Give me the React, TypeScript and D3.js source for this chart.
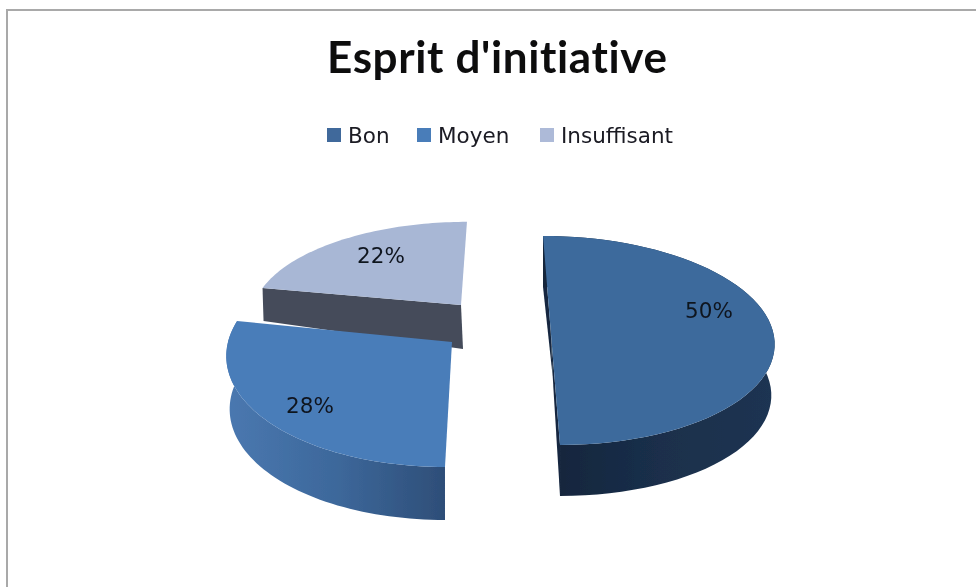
import React from "react";
import * as d3 from "d3";

const categories = ["Bon", "Moyen", "Insuffisant"];
const shares = [50, 28, 22];
const labels = ["50%", "28%", "22%"];
const title = "Esprit d'initiative";

const topColors = ["#3c6a9c", "#4a7db9", "#a8b7d5"];
const legendColors = ["#41699b", "#4a7db9", "#adbad8"];
const legendSquareX = [327, 417, 540];
const legendTextX = [348, 438, 561];
const labelPos = [[709, 311], [310, 406], [381, 256]];

// Per-slice projection of the exploded, perspective-tilted pie
const geo = [
  { cx: 550.7, cy: 330.4, rx: 222, ry: 104.5, kx: 8.5, rim: 51, apex: 46, shrink: 0.985, wall: true, faces: [true, true], grad: ["#14253b", "#1a2f4b", "#1c3452"], face: "#16283f" },
  { cx: 452, cy: 342, rx: 224, ry: 114, kx: -6.4, rim: 53, apex: 50, shrink: 0.985, wall: true, faces: [false, false], grad: ["#4a78b0", "#3d689b", "#2e4e78"], face: "#2e4e78" },
  { cx: 461, cy: 305, rx: 207, ry: 92, kx: -6.6, rim: 33, apex: 44, shrink: 0.995, wall: false, faces: [true, false], grad: ["#444b5a", "#444b5a", "#444b5a"], face: "#444b5a" },
];
const PERSPECTIVE = 0.096;

type G = (typeof geo)[number];

function project(g: G, theta: number, lower: boolean): [number, number] {
  const near = -Math.cos(theta);
  const s = 1 + PERSPECTIVE * near;
  const shrink = lower ? g.shrink : 1;
  const x = g.cx + (g.rx * shrink * Math.sin(theta) + g.kx * near) * s;
  const y = g.cy + g.ry * near * s + (lower ? g.rim : 0);
  return [x, y];
}

export default function App() {
  const arcs = d3.pie<number>().sort(null).startAngle(0)(shares);
  const line = d3.line();
  const paths = arcs.map((a, i) => {
    const g = geo[i];
    const thetas = d3.range(0, 61).map((k) => a.startAngle + ((a.endAngle - a.startAngle) * k) / 60);
    const upper = thetas.map((t) => project(g, t, false));
    const lower = thetas.map((t) => project(g, t, true));
    const apex: [number, number] = [g.cx, g.cy];
    const apexLow: [number, number] = [g.cx + 2, g.cy + g.apex];
    const xs = upper.concat(lower).map((p) => p[0]);
    return {
      top: line([apex, ...upper])! + "Z",
      wall: line([...upper, ...lower.slice().reverse()])! + "Z",
      faceA: line([apex, upper[0], lower[0], apexLow])! + "Z",
      faceB: line([apex, upper[60], lower[60], apexLow])! + "Z",
      x0: d3.min(xs)!,
      x1: d3.max(xs)!,
    };
  });

  return (
    <svg
      width={976}
      height={587}
      style={{ position: "fixed", left: 0, top: 0, background: "#fff" }}
      fontFamily="'DejaVu Sans', sans-serif"
    >
      <defs>
        <filter id="soft" x="-5%" y="-5%" width="110%" height="110%">
          <feGaussianBlur stdDeviation="0.5" />
        </filter>
        {paths.map((p, i) => (
          <linearGradient key={i} id={`wall${i}`} gradientUnits="userSpaceOnUse" x1={p.x0} x2={p.x1} y1={0} y2={0}>
            <stop offset="0" stopColor={geo[i].grad[0]} />
            <stop offset="0.5" stopColor={geo[i].grad[1]} />
            <stop offset="1" stopColor={geo[i].grad[2]} />
          </linearGradient>
        ))}
      </defs>
      <path d="M7 587V10H976" fill="none" stroke="#a9a9a9" strokeWidth={2} />
      <g filter="url(#soft)">
        {[2, 1, 0].map((i) => (
          <g key={categories[i]}>
            {geo[i].faces[0] && <path d={paths[i].faceA} fill={geo[i].face} />}
            {geo[i].faces[1] && <path d={paths[i].faceB} fill={geo[i].face} />}
            {geo[i].wall && <path d={paths[i].wall} fill={`url(#wall${i})`} />}
            <path d={paths[i].top} fill={topColors[i]} />
          </g>
        ))}
        <text
          x={327}
          y={73}
          fontFamily="Lato, sans-serif"
          fontWeight={700}
          fontSize={44}
          fill="#0b0b10"
          textLength={340}
          lengthAdjust="spacing"
          style={{ fontVariantLigatures: "none" }}
        >
          {title}
        </text>
        {categories.map((c, i) => (
          <g key={c}>
            <rect x={legendSquareX[i]} y={128} width={14} height={14} fill={legendColors[i]} />
            <text x={legendTextX[i]} y={143} fontSize={21.5} fill="#1a1a24">{c}</text>
          </g>
        ))}
        {labels.map((l, i) => (
          <text key={l} x={labelPos[i][0]} y={labelPos[i][1] + 7} textAnchor="middle" fontSize={21.5} fill="#10141f">{l}</text>
        ))}
      </g>
    </svg>
  );
}
